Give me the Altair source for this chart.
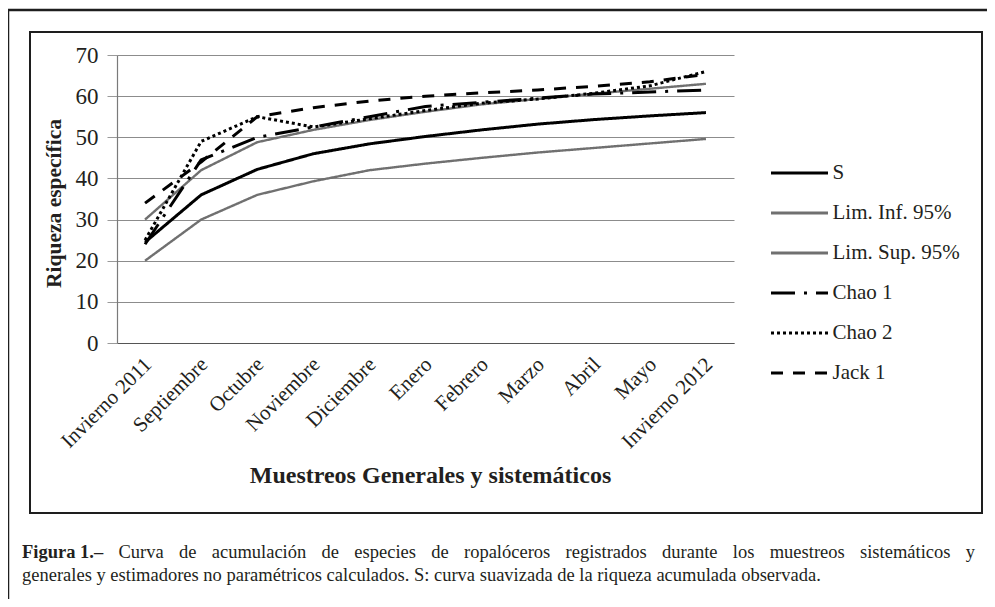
import altair as alt
import pandas as pd

# ---------------- data ----------------
categories = ["Invierno 2011", "Septiembre", "Octubre", "Noviembre", "Diciembre",
              "Enero", "Febrero", "Marzo", "Abril", "Mayo", "Invierno 2012"]
series_names = ["S", "Lim. Inf. 95%", "Lim. Sup. 95%", "Chao 1", "Chao 2", "Jack 1"]
s_obs = [24.5, 36.0, 42.2, 46.0, 48.4, 50.2, 51.8, 53.2, 54.3, 55.2, 56.0]
lim_inf = [20.0, 30.0, 36.0, 39.3, 42.0, 43.6, 45.0, 46.3, 47.4, 48.5, 49.6]
lim_sup = [30.0, 42.0, 48.8, 51.8, 54.2, 56.2, 58.0, 59.3, 60.6, 61.8, 63.0]
chao1 = [24.0, 44.5, 50.0, 52.5, 55.0, 57.5, 58.5, 59.5, 60.5, 61.0, 61.5]
chao2 = [25.0, 49.0, 55.0, 52.5, 54.5, 56.5, 58.3, 59.3, 60.7, 62.5, 66.0]
jack1 = [34.0, 44.0, 55.0, 57.2, 58.8, 60.0, 60.8, 61.5, 62.4, 63.5, 65.3]
y_ticks = [0, 10, 20, 30, 40, 50, 60, 70]

x_title = "Muestreos Generales y sistemáticos"
y_title = "Riqueza específica"
caption_bold = "Figura 1.–"
caption_line1 = ("Curva de acumulación de especies de ropalóceros registrados durante "
                 "los muestreos sistemáticos y")
caption_line2 = ("generales y estimadores no paramétricos calculados. S: curva suavizada "
                 "de la riqueza acumulada observada.")

# ---------------- styles ----------------
SERIF = "Liberation Serif"
INK = "#231f20"
series_colors = ["#000000", "#707070", "#707070", "#000000", "#000000", "#000000"]
series_dashes = [[1, 0], [1, 0], [1, 0], [24, 9, 3, 9], [3, 3], [12, 10]]

rows = []
for name, vals in zip(series_names, [s_obs, lim_inf, lim_sup, chao1, chao2, jack1]):
    for c, v in zip(categories, vals):
        rows.append({"serie": name, "muestreo": c, "riqueza": v})
df = pd.DataFrame(rows)

legend = alt.Legend(title=None, orient="none", legendX=652.5, legendY=88,
                    symbolType="stroke", symbolSize=3249, symbolStrokeWidth=2.8,
                    rowPadding=0, labelOffset=3, padding=0,
                    labelFont=SERIF, labelFontSize=21, labelColor=INK, labelLimit=300)

base = alt.Chart(df).encode(
    x=alt.X("muestreo:N", sort=categories,
            scale=alt.Scale(type="point", padding=0.5),
            axis=alt.Axis(title=x_title, labelAngle=-45, labelAlign="right",
                          labelBaseline="middle", labelPadding=18, labelOffset=3,
                          ticks=False, grid=False, domainColor="#555555", domainWidth=1.2,
                          labelFont=SERIF, labelFontSize=21, labelColor=INK,
                          labelOverlap=False,
                          titleFont=SERIF, titleFontSize=24, titleFontWeight="bold",
                          titleColor=INK, titleX=313, titleY=139,
                          titleBaseline="alphabetic", titleAlign="center")),
    y=alt.Y("riqueza:Q", scale=alt.Scale(domain=[0, 70], nice=False),
            axis=alt.Axis(values=y_ticks, grid=True, gridColor="#8c8c8c", gridWidth=1,
                          domainColor="#7a7a7a", domainWidth=1.2,
                          tickColor="#9a9a9a", tickSize=10,
                          labelFont=SERIF, labelFontSize=23, labelColor=INK, labelPadding=9,
                          title=y_title, titleFont=SERIF, titleFontSize=21.5,
                          titleFontWeight="bold", titleColor=INK, titleAngle=270,
                          titleX=-57, titleY=148, titleBaseline="alphabetic",
                          titleAlign="center")),
    color=alt.Color("serie:N", sort=series_names,
                    scale=alt.Scale(domain=series_names, range=series_colors),
                    legend=legend),
    strokeDash=alt.StrokeDash("serie:N", sort=series_names,
                              scale=alt.Scale(domain=series_names, range=series_dashes),
                              legend=legend),
)

gray_lines = base.transform_filter(
    alt.FieldOneOfPredicate(field="serie", oneOf=["Lim. Inf. 95%", "Lim. Sup. 95%"])
).mark_line(strokeWidth=2.4, strokeJoin="round")
black_lines = base.transform_filter(
    alt.FieldOneOfPredicate(field="serie", oneOf=["S", "Chao 1", "Chao 2", "Jack 1"])
).mark_line(strokeWidth=3, strokeJoin="round")

one = pd.DataFrame({"k": [0]})
outer_frame = alt.Chart(one).mark_rect(fill="white", fillOpacity=0, stroke="#1e1e1e",
                                       strokeWidth=2.5).encode(
    x=alt.value(-109), x2=alt.value(900), y=alt.value(-45), y2=alt.value(600))
inner_frame = alt.Chart(one).mark_rect(fill="white", fillOpacity=0, stroke="#1e1e1e",
                                       strokeWidth=2).encode(
    x=alt.value(-87), x2=alt.value(865), y=alt.value(-23), y2=alt.value(458))

# ---------------- caption (justified first line) ----------------
REG = {"a": 444, "b": 500, "c": 444, "d": 500, "e": 444, "f": 333, "g": 500, "h": 500,
       "i": 278, "j": 278, "k": 500, "l": 278, "m": 778, "n": 500, "o": 500, "p": 500,
       "q": 500, "r": 333, "s": 389, "t": 278, "u": 500, "v": 500, "w": 722, "x": 500,
       "y": 500, "z": 444, "á": 444, "é": 444, "í": 278, "ó": 500, "ú": 500, " ": 250,
       ".": 250, ":": 278, "S": 556, "C": 667}
BOLD = {"F": 611, "i": 278, "g": 500, "u": 556, "r": 444, "a": 500, " ": 250,
        "1": 500, ".": 250, "–": 500}
CAP_SIZE = 18.5
L = 117  # plot-area left, page px
T = 55   # plot-area top, page px


def width(s, table):
    return sum(table.get(ch, 500) for ch in s) / 1000.0 * CAP_SIZE


caption_layers = []
x0 = 22
y1 = 552 - T
y2 = 575 - T
caption_layers.append(alt.Chart(one).mark_text(
    text=caption_bold, font=SERIF, fontSize=CAP_SIZE, fontWeight="bold", color=INK,
    align="left", baseline="middle").encode(x=alt.value(x0 - L), y=alt.value(y1)))
words = caption_line1.split(" ")
bold_w = width(caption_bold, BOLD)
natural = bold_w + sum(width(w, REG) for w in words) + len(words) * width(" ", REG)
gap = width(" ", REG) + (975 - x0 - natural) / len(words)
cx = x0 + bold_w + gap
for w in words:
    caption_layers.append(alt.Chart(one).mark_text(
        text=w, font=SERIF, fontSize=CAP_SIZE, color=INK,
        align="left", baseline="middle").encode(x=alt.value(cx - L), y=alt.value(y1)))
    cx += width(w, REG) + gap
caption_layers.append(alt.Chart(one).mark_text(
    text=caption_line2, font=SERIF, fontSize=CAP_SIZE, color=INK,
    align="left", baseline="middle").encode(x=alt.value(x0 - L), y=alt.value(y2)))

chart = alt.layer(outer_frame, inner_frame, gray_lines, black_lines, *caption_layers).properties(
    width=617, height=288,
    padding={"left": 109, "top": 47, "right": 253, "bottom": 256},
    autosize=alt.AutoSizeParams(type="none"),
    background="white",
).configure_view(strokeWidth=0)

chart.save("out.html", embed_options={"renderer": "svg", "actions": False})
